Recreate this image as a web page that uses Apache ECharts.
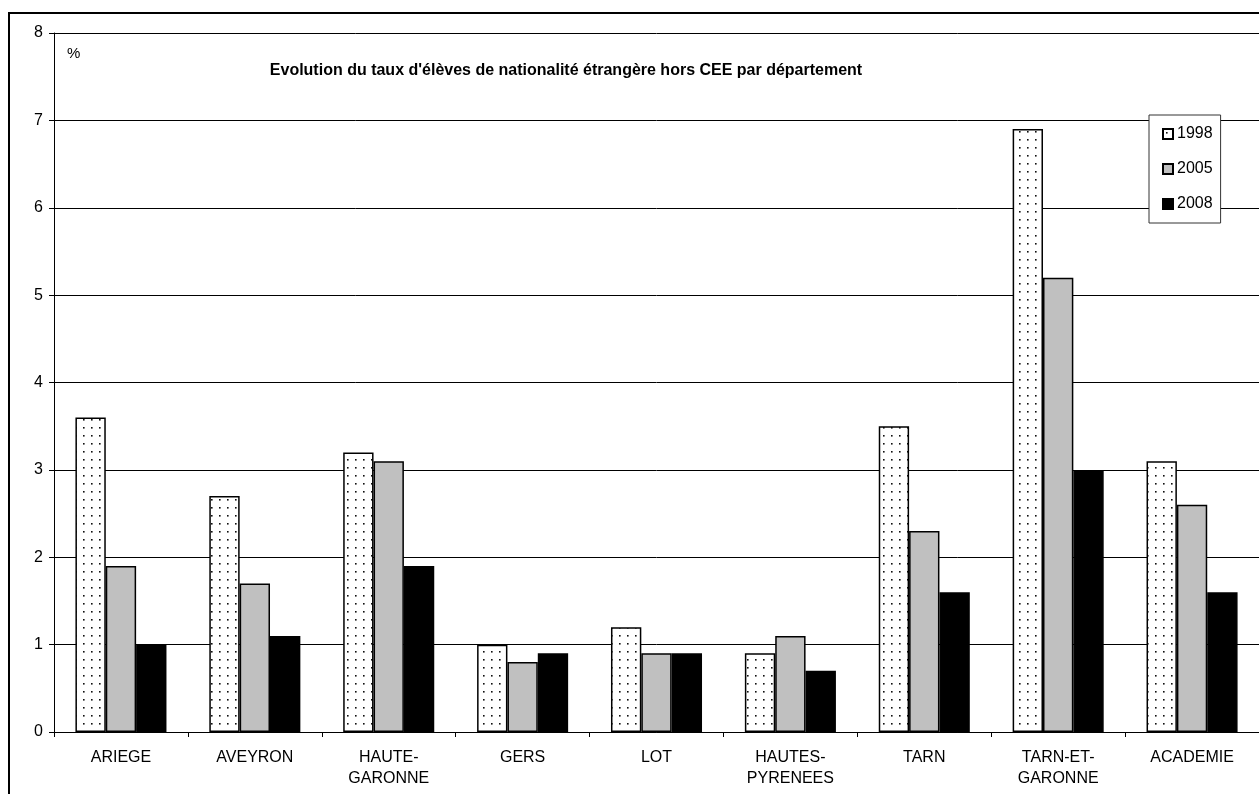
<!DOCTYPE html>
<html><head><meta charset="utf-8">
<script src="https://cdn.jsdelivr.net/npm/echarts@6/dist/echarts.min.js"></script>
<style>html,body{margin:0;padding:0;background:#fff}#c{width:1259px;height:794px}</style>
</head><body><div id="c"></div>
<script>
const categories = ['ARIEGE','AVEYRON','HAUTE-\nGARONNE','GERS','LOT','HAUTES-\nPYRENEES','TARN','TARN-ET-\nGARONNE','ACADEMIE'];
const v1998 = [3.6, 2.7, 3.2, 1.0, 1.2, 0.9, 3.5, 6.9, 3.1];
const v2005 = [1.9, 1.7, 3.1, 0.8, 0.9, 1.1, 2.3, 5.2, 2.6];
const v2008 = [1.0, 1.1, 1.9, 0.9, 0.9, 0.7, 1.6, 3.0, 1.6];
const seriesNames = ['1998','2005','2008'];
const titleText = "Evolution du taux d'élèves de nationalité étrangère hors CEE par département";

const tile = document.createElement('canvas');
tile.width = 8; tile.height = 8;
const tc = tile.getContext('2d');
tc.fillStyle = '#fff'; tc.fillRect(0,0,8,8);
tc.fillStyle = '#111';
tc.fillRect(3,3,1.6,1.6);

const font = '"Liberation Sans", Arial, sans-serif';
const chart = echarts.init(document.getElementById('c'), null, {renderer:'canvas'});
const bs = {borderColor:'#000', borderWidth:1.5};
chart.setOption({
  animation:false,
  textStyle:{fontFamily:font},
  grid:{left:54, top:33, width:1206, height:699, containLabel:false},
  graphic:[
    {type:'rect', shape:{x:9, y:13, width:1400, height:900}, style:{fill:'none', stroke:'#000', lineWidth:2}, z:-1},
    {type:'text', x:67, y:46, style:{text:'%', font:'15px '+font, fill:'#000'}},
    {type:'text', x:566, y:71, style:{text:titleText, font:'bold 16px '+font, fill:'#000', textAlign:'center', textVerticalAlign:'middle'}}
  ],
  legend:{
    orient:'vertical', left:1149, top:115, width:79, height:106,
    data:seriesNames,
    backgroundColor:'#fff', borderColor:'#333', borderWidth:1,
    padding:[11,8,11,13], itemGap:19, itemWidth:10, itemHeight:10,
    textStyle:{fontSize:16, color:'#000', fontFamily:font, padding:[0,0,0,-1]},
    icon:'rect'
  },
  xAxis:{
    type:'category', data:categories,
    axisLine:{lineStyle:{color:'#000', width:1}},
    axisTick:{show:true, length:5, inside:false, lineStyle:{color:'#000'}},
    axisLabel:{fontSize:16, color:'#000', margin:15, lineHeight:21, interval:0, fontFamily:font},
    splitLine:{show:false}
  },
  yAxis:{
    type:'value', min:0, max:8, interval:1,
    axisLine:{show:true, lineStyle:{color:'#000'}},
    axisTick:{show:true, length:5, lineStyle:{color:'#000'}},
    axisLabel:{fontSize:16, color:'#000', margin:11, fontFamily:font},
    splitLine:{show:true, lineStyle:{color:'#000', width:1}}
  },
  series:[
    {name:seriesNames[0], type:'bar', data:v1998, barGap:'0%', barCategoryGap:'32%', itemStyle:Object.assign({color:{image:tile, repeat:'repeat'}}, bs)},
    {name:seriesNames[1], type:'bar', data:v2005, barGap:'0%', barCategoryGap:'32%', itemStyle:Object.assign({color:'#c0c0c0'}, bs)},
    {name:seriesNames[2], type:'bar', data:v2008, barGap:'0%', barCategoryGap:'32%', itemStyle:Object.assign({color:'#000'}, bs)}
  ]
});
</script></body></html>
